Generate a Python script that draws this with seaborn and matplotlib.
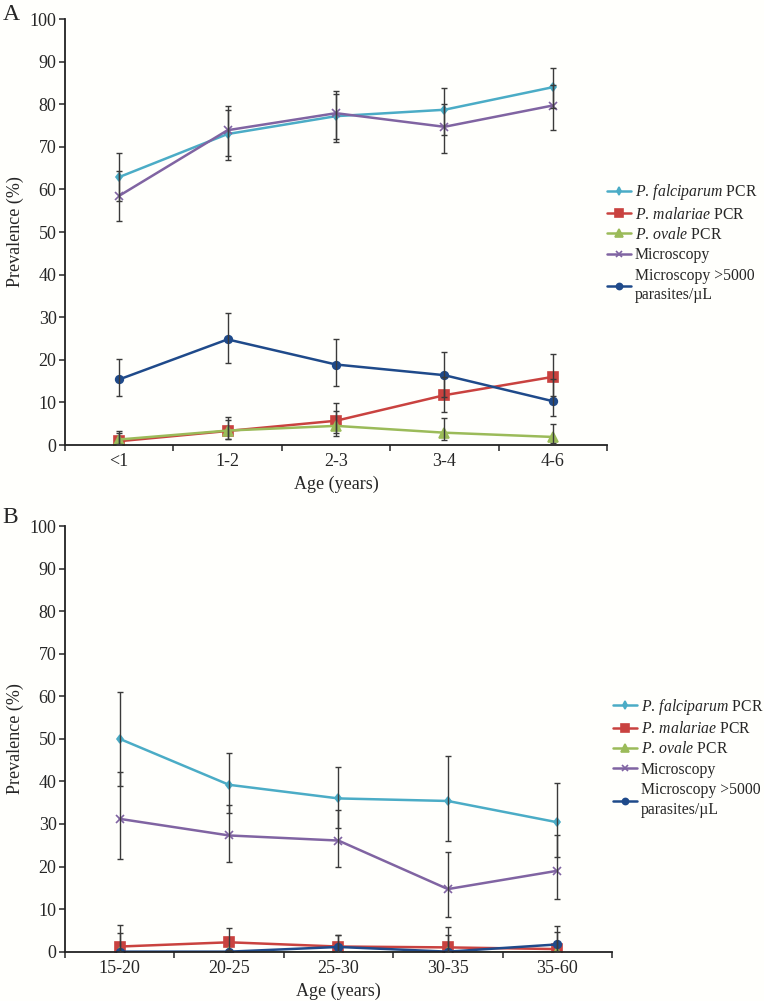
import numpy as np
import pandas as pd
import matplotlib
matplotlib.use("Agg")
import matplotlib.pyplot as plt
import seaborn as sns

# categories
ages_a = ["<1", "1-2", "2-3", "3-4", "4-6"]
ages_b = ["15-20", "20-25", "25-30", "30-35", "35-60"]

series_names = ["falc", "mala", "ovale", "micro", "high"]
series_labels = [r"$\it{P.}\,\it{falciparum}$ PCR", r"$\it{P.}\,\it{malariae}$ PCR",
                 r"$\it{P.}\,\it{ovale}$ PCR", "Microscopy",
                 "Microscopy >5000\nparasites/µL"]

# panel A values (%), with lower / upper bounds
a_falc = [62.9, 73.0, 77.2, 78.7, 84.0]
a_falc_lo = [57.2, 67.8, 71.8, 72.8, 79.1]
a_falc_hi = [68.5, 79.5, 82.5, 83.7, 88.4]
a_mala = [0.9, 3.3, 5.7, 11.7, 16.0]
a_mala_lo = [0.1, 1.5, 2.8, 7.8, 11.6]
a_mala_hi = [3.3, 6.5, 9.8, 16.0, 21.3]
a_ovale = [1.3, 3.4, 4.5, 2.9, 1.9]
a_ovale_lo = [0.3, 1.4, 2.2, 1.2, 0.5]
a_ovale_hi = [2.9, 5.8, 8.0, 6.3, 4.9]
a_micro = [58.5, 73.9, 77.9, 74.7, 79.7]
a_micro_lo = [52.6, 67.0, 71.2, 68.5, 73.9]
a_micro_hi = [64.4, 78.7, 83.2, 80.0, 84.5]
a_high = [15.4, 24.8, 18.9, 16.4, 10.3]
a_high_lo = [11.5, 19.3, 13.9, 11.3, 6.8]
a_high_hi = [20.3, 30.9, 24.8, 21.9, 15.5]

# panel B values (%)
b_falc = [50.0, 39.2, 36.0, 35.4, 30.4]
b_falc_lo = [38.9, 32.5, 29.1, 26.0, 22.2]
b_falc_hi = [60.9, 46.6, 43.3, 46.0, 39.7]
b_mala = [1.2, 2.2, 1.2, 1.0, 0.6]
b_mala_lo = [0.0, 0.3, 0.0, 0.0, 0.0]
b_mala_hi = [6.3, 5.5, 3.9, 5.7, 6.0]
b_ovale = [0.0, 0.0, 0.0, 0.0, 0.0]
b_ovale_lo = [np.nan] * 5
b_ovale_hi = [np.nan] * 5
b_micro = [31.2, 27.3, 26.1, 14.7, 19.0]
b_micro_lo = [21.8, 21.0, 20.0, 8.2, 12.3]
b_micro_hi = [42.3, 34.5, 33.2, 23.3, 27.4]
b_high = [0.0, 0.0, 1.1, 0.0, 1.7]
b_high_lo = [0.0, np.nan, 0.0, 0.0, 0.0]
b_high_hi = [4.3, np.nan, 4.0, 3.9, 4.7]

colors = {"falc": "#4bacc6", "mala": "#c9423f", "ovale": "#9bbb59",
          "micro": "#8064a2", "high": "#1f4a8a"}
markers = {"falc": "d", "mala": "s", "ovale": "^", "micro": "x", "high": "o"}
msizes = {"falc": 4.5, "mala": 6.5, "ovale": 6.5, "micro": 6, "high": 5.5}


def make_df(ages, vals, los, his):
    rows = []
    for name, v, lo, hi in zip(series_names, vals, los, his):
        for i, age in enumerate(ages):
            rows.append({"series": name, "age": age, "pos": i,
                         "value": v[i], "lo": lo[i], "hi": hi[i]})
    return pd.DataFrame(rows)


df_a = make_df(ages_a,
               [a_falc, a_mala, a_ovale, a_micro, a_high],
               [a_falc_lo, a_mala_lo, a_ovale_lo, a_micro_lo, a_high_lo],
               [a_falc_hi, a_mala_hi, a_ovale_hi, a_micro_hi, a_high_hi])
df_b = make_df(ages_b,
               [b_falc, b_mala, b_ovale, b_micro, b_high],
               [b_falc_lo, b_mala_lo, b_ovale_lo, b_micro_lo, b_high_lo],
               [b_falc_hi, b_mala_hi, b_ovale_hi, b_micro_hi, b_high_hi])

sns.set_style("ticks")
plt.rcParams["font.family"] = ["Liberation Serif", "DejaVu Serif"]
plt.rcParams["mathtext.fontset"] = "custom"
plt.rcParams["mathtext.rm"] = "Liberation Serif"
plt.rcParams["mathtext.it"] = "Liberation Serif:italic"
plt.rcParams["axes.edgecolor"] = "#222222"


def draw_panel(ax, df, ages, legend_xy):
    handles = []
    for name, label in zip(series_names, series_labels):
        d = df[df["series"] == name]
        sns.lineplot(data=d, x="pos", y="value", ax=ax, color=colors[name],
                     marker=markers[name], markersize=msizes[name],
                     markeredgecolor=colors[name], markeredgewidth=1.2,
                     linewidth=1.8, label=label, errorbar=None, legend=False)
        handles.append(ax.lines[-1])
    for name in series_names:
        d = df[(df["series"] == name) & df["lo"].notna()]
        if len(d) == 0:
            continue
        yerr = np.vstack([d["value"] - d["lo"], d["hi"] - d["value"]])
        ax.errorbar(d["pos"], d["value"], yerr=yerr, fmt="none",
                    ecolor="#3a3a3a", elinewidth=1.0, capsize=2.2,
                    capthick=1.0, zorder=5)
    ax.set_xlim(-0.5, len(ages) - 0.5)
    ax.set_ylim(0, 100)
    ax.set_yticks(range(0, 101, 10))
    ax.set_xticks(range(len(ages)))
    ax.set_xticklabels(ages)
    ax.set_xticks(np.arange(-0.5, len(ages), 1.0), minor=True)
    ax.tick_params(axis="x", which="major", length=0, labelsize=13, pad=6)
    ax.tick_params(axis="x", which="minor", length=4, width=1.1, direction="out")
    ax.tick_params(axis="y", length=4, width=1.1, labelsize=13, pad=2)
    ax.set_xlabel("Age (years)", fontsize=13, labelpad=4)
    ax.set_ylabel("Prevalence (%)", fontsize=13, labelpad=4)
    for s in ["left", "bottom"]:
        ax.spines[s].set_linewidth(1.3)
    sns.despine(ax=ax)
    leg = ax.legend(handles=handles, loc="upper left", bbox_to_anchor=legend_xy,
                    bbox_transform=ax.figure.transFigure, frameon=False,
                    fontsize=11.3, borderpad=0, borderaxespad=0, handlelength=1.5,
                    handletextpad=0.25, labelspacing=0.28, markerscale=0.8)
    for t in leg.get_texts():
        t.set_linespacing(1.3)


fig = plt.figure(figsize=(7.64, 10.01), dpi=100)
fig.patch.set_facecolor("#fffffc")
ax_a = fig.add_axes([0.085, 0.5554, 0.7095, 0.4256])
ax_b = fig.add_axes([0.085, 0.0493, 0.716, 0.4252])
for ax in (ax_a, ax_b):
    ax.set_facecolor("#fffffc")

draw_panel(ax_a, df_a, ages_a, (0.795, 0.818))
draw_panel(ax_b, df_b, ages_b, (0.803, 0.304))

fig.text(0.003, 0.996, "A", fontsize=17, va="top", ha="left")
fig.text(0.003, 0.494, "B", fontsize=17, va="top", ha="left")

fig.savefig("out.png", dpi=100, facecolor=fig.get_facecolor())
